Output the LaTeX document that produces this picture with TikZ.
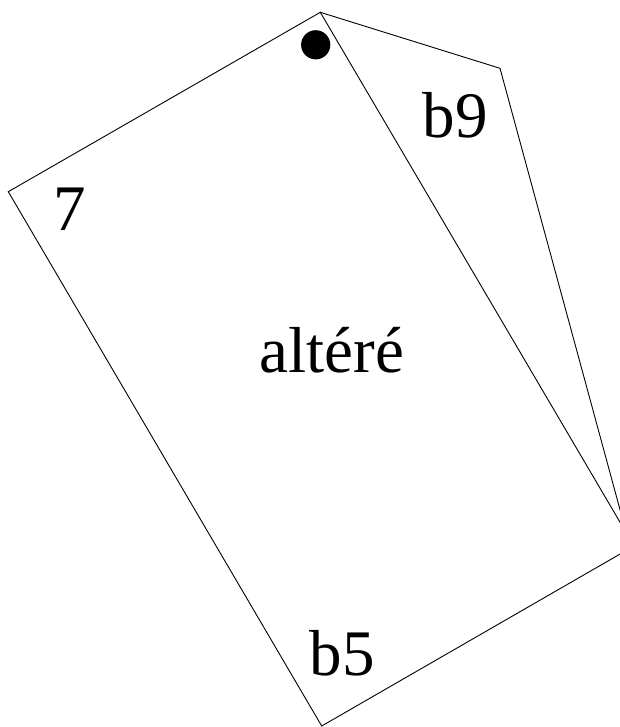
\documentclass[tikz,border=0pt]{standalone}
\usepackage{fontspec}
\setmainfont{Liberation Serif}
\begin{document}
\begin{tikzpicture}[x=1pt,y=-1pt,
  card/.style={draw=black,line width=0.9pt,line join=miter},
  lbl/.style={anchor=base,inner sep=0pt,font=\fontsize{65}{65}\selectfont}]
\useasboundingbox (0,0) rectangle (620,727);
\clip (0,0) rectangle (620,727);
% back card
\fill[white] (320.3,12.3) -- (500,68.3) -- (625,528) -- cycle;
\draw[card] (320.3,12.3) -- (500,68.3) -- (625,528);
% front card
\draw[card,fill=white] (320.3,12.3) -- (8.3,191.7) -- (321.7,726) -- (634,546) -- cycle;
\fill (315.7,44.8) circle (14.6);
\node[lbl] (seven) at (70,230) {7};
\node[lbl] (bnine) at (455,138) {b9};
\node[lbl] (alt) at (332,372) {altéré};
\node[lbl] (bfive) at (342,675) {b5};
\end{tikzpicture}
\end{document}
